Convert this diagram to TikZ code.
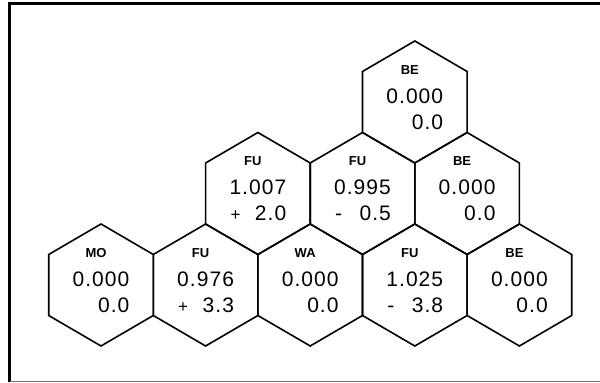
\documentclass[tikz,border=0pt]{standalone}
\usepackage{fontspec}
\setmainfont{Liberation Sans}
\newfontfamily\numfont[LetterSpace=5]{Liberation Sans}
\newcommand{\hexcell}[7]{%
  \coordinate (#1) at (#2,{383-#3});
  \draw[hexline] ([shift={(52.3,30.5)}]#1) -- ([shift={(0,61)}]#1) -- ([shift={(-52.3,30.5)}]#1)
    -- ([shift={(-52.3,-30.5)}]#1) -- ([shift={(0,-61)}]#1) -- ([shift={(52.3,-30.5)}]#1) -- cycle;
  \node[lab] (#1-lab) at ([shift={(-5,32)}]#1) {#4};
  \node[num] (#1-num) at ([shift={(0,6)}]#1) {#5};
  \node[num, anchor=east] (#1-val) at ([yshift=-26]#1-num.east) {#7};
  \node[sgn, anchor=west] (#1-sgn) at ([shift={(1,-26)}]#1-num.west) {#6};
}
\newcommand{\plussign}{{\fontsize{17}{17}\selectfont+}}
\begin{document}
\begin{tikzpicture}[x=1pt,y=1pt,
  hexline/.style={line width=1.6pt, line join=miter},
  lab/.style={inner sep=0, font=\bfseries\fontsize{13}{13}\selectfont},
  num/.style={inner sep=0, text height=15pt, text depth=0pt, font=\numfont\fontsize{21}{21}\selectfont},
  sgn/.style={inner sep=0, text height=15pt, text depth=0pt, font=\fontsize{21}{21}\selectfont},
  frameline/.style={line width=2.2pt}]
\useasboundingbox (0,0) rectangle (600,383);
% frame
\coordinate (ftl) at (9.5,379.5);
\coordinate (fbl) at (9.5,1.3);
\coordinate (ftr) at (600,379.5);
\coordinate (fbr) at (600,1.3);
\draw[frameline] (ftr) -- (ftl) -- (fbl);
\draw[line width=1pt, black!55] (fbl) -- (fbr);
% bottom row
\hexcell{mo}{101}{285}{MO}{0.000}{}{0.0}
\hexcell{fua}{205.6}{285}{FU}{0.976}{\plussign}{3.3}
\hexcell{wa}{310.2}{285}{WA}{0.000}{}{0.0}
\hexcell{fub}{414.8}{285}{FU}{1.025}{-}{3.8}
\hexcell{bea}{519.4}{285}{BE}{0.000}{}{0.0}
% middle row
\hexcell{fuc}{257.9}{193.5}{FU}{1.007}{\plussign}{2.0}
\hexcell{fud}{362.5}{193.5}{FU}{0.995}{-}{0.5}
\hexcell{beb}{467.1}{193.5}{BE}{0.000}{}{0.0}
% top
\hexcell{bec}{414.8}{102}{BE}{0.000}{}{0.0}
\end{tikzpicture}
\end{document}
